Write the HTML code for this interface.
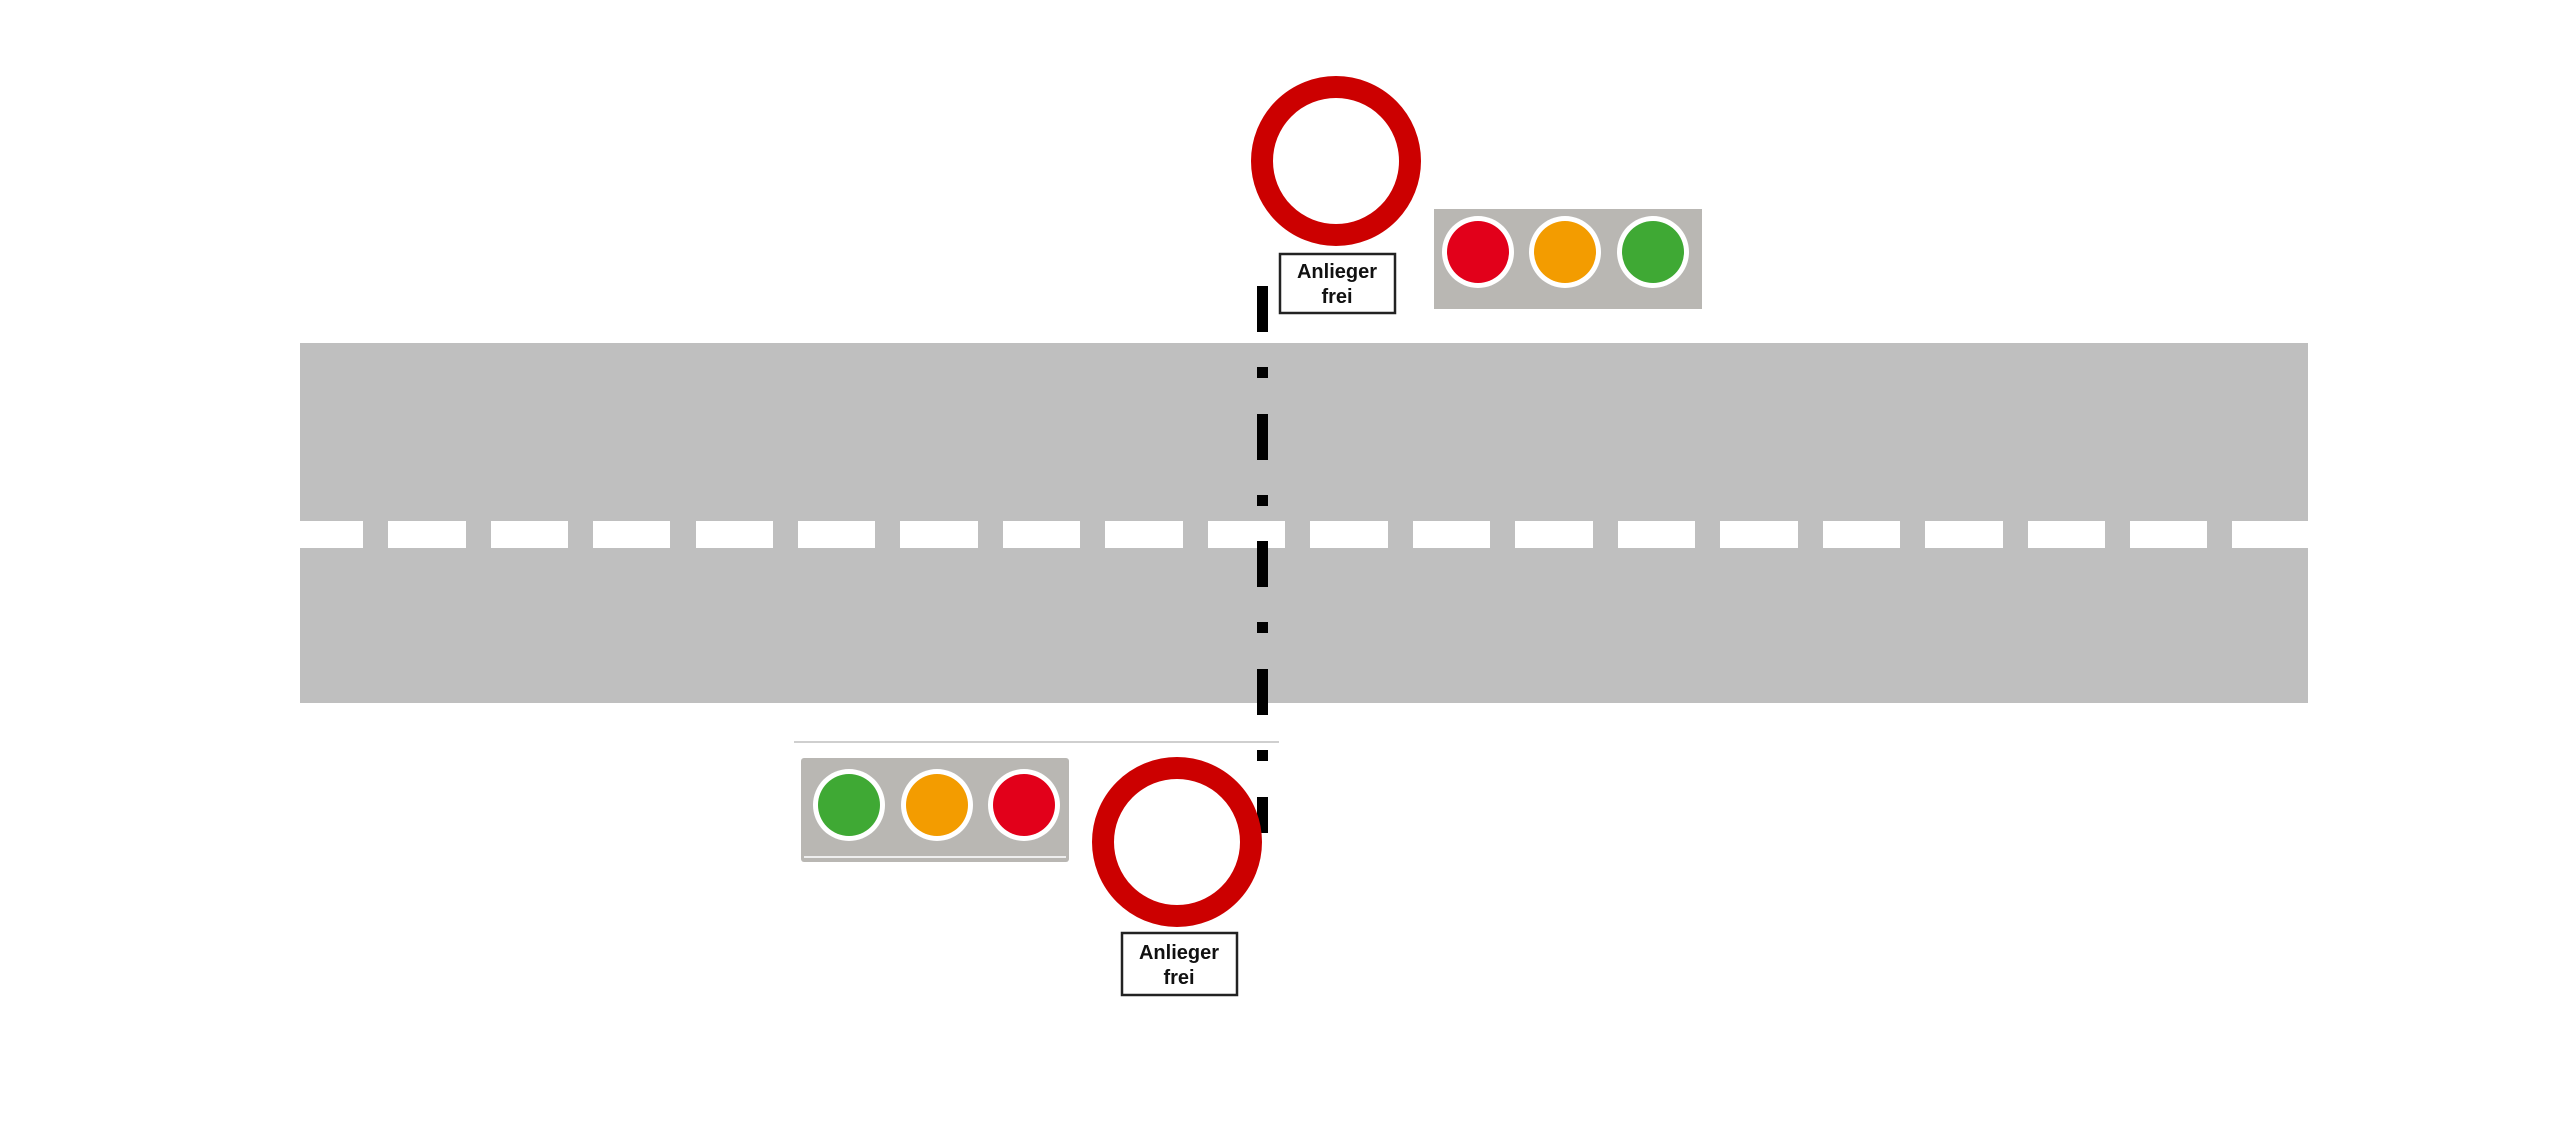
<!DOCTYPE html>
<html><head><meta charset="utf-8"><style>
html,body{margin:0;padding:0;background:#fff;}
svg{display:block;}
text{font-family:"Liberation Sans",sans-serif;font-weight:bold;fill:#111;}
</style></head><body>
<svg width="2560" height="1123" viewBox="0 0 2560 1123" xmlns="http://www.w3.org/2000/svg">
<rect width="2560" height="1123" fill="#fff"/>
<!-- road -->
<rect x="300" y="343" width="2008" height="360" fill="#bfbfbf"/>
<rect x="300" y="521" width="2008" height="27" fill="#fff"/>
<g fill="#bfbfbf">
<script>/* none */</script>
</g>
<g fill="#bfbfbf" id="gaps">
<rect x="363" y="518" width="25" height="33"/>
<rect x="466" y="518" width="25" height="33"/>
<rect x="568" y="518" width="25" height="33"/>
<rect x="670" y="518" width="26" height="33"/>
<rect x="773" y="518" width="25" height="33"/>
<rect x="875" y="518" width="25" height="33"/>
<rect x="978" y="518" width="25" height="33"/>
<rect x="1080" y="518" width="25" height="33"/>
<rect x="1183" y="518" width="25" height="33"/>
<rect x="1285" y="518" width="25" height="33"/>
<rect x="1388" y="518" width="25" height="33"/>
<rect x="1490" y="518" width="25" height="33"/>
<rect x="1593" y="518" width="25" height="33"/>
<rect x="1695" y="518" width="25" height="33"/>
<rect x="1798" y="518" width="25" height="33"/>
<rect x="1900" y="518" width="25" height="33"/>
<rect x="2003" y="518" width="25" height="33"/>
<rect x="2105" y="518" width="25" height="33"/>
<rect x="2207" y="518" width="25" height="33"/>
</g>
<!-- thin line -->
<rect x="794" y="741" width="485" height="2" fill="#cfcfcf"/>
<!-- dash-dot line -->
<g fill="#000">
<rect x="1257" y="286" width="11" height="46"/>
<rect x="1257" y="367" width="11" height="11"/>
<rect x="1257" y="414" width="11" height="46"/>
<rect x="1257" y="495" width="11" height="11"/>
<rect x="1257" y="541" width="11" height="46"/>
<rect x="1257" y="622" width="11" height="11"/>
<rect x="1257" y="669" width="11" height="46"/>
<rect x="1257" y="750" width="11" height="11"/>
<rect x="1257" y="797" width="11" height="36"/>
</g>
<!-- top sign -->
<circle cx="1336" cy="161" r="74" fill="#fff" stroke="#cc0000" stroke-width="22"/>
<rect x="1280" y="254" width="115" height="59" fill="#fff" stroke="#222" stroke-width="2.5"/>
<text x="1337" y="278" font-size="20" text-anchor="middle">Anlieger</text>
<text x="1337" y="303" font-size="20" text-anchor="middle">frei</text>
<!-- top traffic light -->
<rect x="1434" y="209" width="268" height="100" fill="#b9b7b3"/>
<circle cx="1478" cy="252" r="36" fill="#fff"/><circle cx="1478" cy="252" r="31" fill="#e2001a"/>
<circle cx="1565" cy="252" r="36" fill="#fff"/><circle cx="1565" cy="252" r="31" fill="#f39c00"/>
<circle cx="1653" cy="252" r="36" fill="#fff"/><circle cx="1653" cy="252" r="31" fill="#3fa934"/>
<!-- bottom traffic light -->
<rect x="801" y="758" width="268" height="104" rx="3" fill="#b9b7b3"/>
<rect x="804" y="856" width="262" height="2" fill="#eeeeee"/>
<circle cx="849" cy="805" r="36" fill="#fff"/><circle cx="849" cy="805" r="31" fill="#3fa934"/>
<circle cx="937" cy="805" r="36" fill="#fff"/><circle cx="937" cy="805" r="31" fill="#f39c00"/>
<circle cx="1024" cy="805" r="36" fill="#fff"/><circle cx="1024" cy="805" r="31" fill="#e2001a"/>
<!-- bottom sign -->
<circle cx="1177" cy="842" r="74" fill="#fff" stroke="#cc0000" stroke-width="22"/>
<rect x="1122" y="933" width="115" height="62" fill="#fff" stroke="#222" stroke-width="2.5"/>
<text x="1179" y="959" font-size="20" text-anchor="middle">Anlieger</text>
<text x="1179" y="984" font-size="20" text-anchor="middle">frei</text>
</svg>
</body></html>
